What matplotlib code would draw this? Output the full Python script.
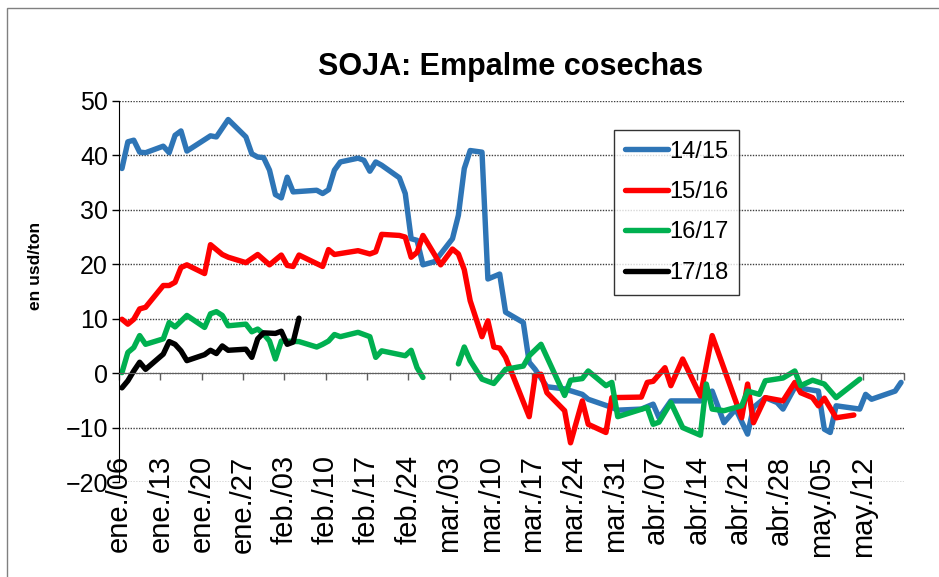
import matplotlib
import numpy as np

matplotlib.use("Agg")
import matplotlib.pyplot as plt  # noqa: E402
from matplotlib.patches import Rectangle  # noqa: E402

FONT = "Liberation Sans"
plt.rcParams["font.family"] = [FONT, "DejaVu Sans"]

TICK_LABELS = ["ene./06", "ene./13", "ene./20", "ene./27", "feb./03", "feb./10",
               "feb./17", "feb./24", "mar./03", "mar./10", "mar./17", "mar./24",
               "mar./31", "abr./07", "abr./14", "abr./21", "abr./28", "may./05",
               "may./12", ""]

# business-day offsets from ene./06, values in usd/ton
days_1415 = [0, 1, 2, 3, 4, 7, 8, 9, 10, 11, 15, 16, 18, 21, 22, 23, 24, 25, 26, 27,
             28, 29, 33, 34, 35, 36, 37, 40, 41, 42, 43, 44, 47, 48, 49, 50, 51, 53,
             56, 57, 58, 59, 61, 62, 64, 65, 68, 69, 70, 72, 75, 78, 79, 83, 84, 88,
             90, 91, 93, 98, 100, 102, 104, 106, 107, 109, 111, 112, 114, 118, 119,
             120, 121, 125, 126, 127, 131, 132]
vals_1415 = [37.6, 42.5, 42.8, 40.6, 40.5, 41.7, 40.5, 43.7, 44.5, 40.8, 43.6, 43.4,
             46.6, 43.4, 40.3, 39.7, 39.6, 37.3, 32.8, 32.2, 36.0, 33.3, 33.6, 33.0,
             33.7, 37.3, 38.8, 39.5, 39.1, 37.1, 38.8, 38.2, 35.9, 33.0, 24.7, 24.4,
             19.9, 20.5, 24.7, 29.0, 37.6, 40.9, 40.6, 17.3, 18.2, 11.2, 9.3, 2.0,
             0.7, -2.5, -2.9, -3.9, -4.8, -6.3, -6.8, -6.6, -5.7, -8.2, -5.1, -5.1,
             -3.3, -9.1, -6.6, -11.2, -6.3, -4.5, -5.4, -6.6, -2.6, -3.3, -10.3,
             -10.9, -6.0, -6.6, -3.9, -4.8, -3.3, -1.7]

days_1516 = [0, 1, 2, 3, 4, 7, 8, 9, 10, 11, 14, 15, 17, 18, 21, 23, 25, 27, 28, 29,
             30, 34, 35, 36, 40, 42, 43, 44, 47, 48, 49, 50, 51, 54, 56, 57, 58, 59,
             61, 62, 63, 64, 65, 69, 70, 71, 72, 75, 76, 78, 79, 82, 83, 88, 89, 90,
             92, 93, 95, 98, 100, 105, 106, 107, 109, 112, 114, 115, 117, 118, 119,
             121, 124]
vals_1516 = [9.9, 9.0, 9.9, 11.8, 12.1, 16.1, 16.1, 16.7, 19.4, 19.9, 18.3, 23.6,
             21.8, 21.3, 20.3, 21.8, 19.9, 21.7, 19.8, 19.6, 21.7, 19.6, 22.7, 21.8,
             22.5, 21.9, 22.3, 25.5, 25.3, 25.0, 21.3, 22.2, 25.3, 19.9, 22.8, 21.9,
             19.0, 13.3, 6.7, 9.6, 4.8, 4.6, 2.9, -8.0, -0.5, -0.2, -3.6, -6.9,
             -12.8, -5.1, -9.4, -10.9, -4.5, -4.4, -1.7, -1.5, 1.0, -2.3, 2.6, -4.2,
             6.9, -8.2, -2.0, -9.1, -4.5, -5.1, -1.7, -3.6, -4.5, -6.0, -4.6, -8.2,
             -7.7]

days_1617 = [0, 1, 2, 3, 4, 7, 8, 9, 11, 14, 15, 16, 17, 18, 21, 22, 23, 24, 25, 26,
             27, 30, 33, 34, 35, 36, 37, 40, 42, 43, 44, 48, 49, 50, 51, 54, 57, 58,
             59, 61, 63, 65, 68, 69, 71, 75, 76, 78, 79, 82, 83, 84, 89, 90, 91, 93,
             95, 98, 99, 100, 102, 105, 106, 108, 109, 112, 114, 115, 117, 119, 121,
             125]
vals_1617 = [0.1, 3.8, 4.7, 6.9, 5.3, 6.3, 9.3, 8.5, 10.6, 8.4, 10.9, 11.3, 10.6,
             8.7, 9.0, 7.6, 8.1, 7.2, 5.9, 2.6, 5.9, 5.8, 4.8, 5.3, 5.9, 7.1, 6.7,
             7.5, 6.7, 2.9, 4.1, 3.2, 4.2, 1.0, -0.8, np.nan, 1.7, 4.8, 2.3, -1.1,
             -1.9, 0.7, 1.3, 3.2, 5.3, -4.1, -1.3, -1.0, 0.4, -2.3, -1.7, -8.0, -6.3,
             -9.4, -9.0, -5.4, -10.0, -11.4, -2.0, -6.6, -6.9, -6.0, -3.3, -3.9,
             -1.4, -0.9, 0.4, -2.3, -1.3, -2.0, -4.5, -1.1]

days_1718 = [0, 1, 2, 3, 4, 7, 8, 9, 10, 11, 14, 15, 16, 17, 18, 21, 22, 23, 24, 26,
             27, 28, 29, 30]
vals_1718 = [-2.7, -1.4, 0.4, 2.0, 0.7, 3.5, 5.8, 5.3, 4.1, 2.3, 3.4, 4.2, 3.6, 5.0,
             4.2, 4.4, 2.9, 6.3, 7.4, 7.3, 7.7, 5.3, 5.7, 10.1]

SERIES = [("14/15", days_1415, vals_1415, "#2E75B6"),
          ("15/16", days_1516, vals_1516, "#FF0000"),
          ("16/17", days_1617, vals_1617, "#00B050"),
          ("17/18", days_1718, vals_1718, "#000000")]

W, H = 939, 577
fig = plt.figure(figsize=(W / 100, H / 100), dpi=100)
ax = fig.add_axes([119 / W, 1 - 482 / H, 785 / W, 381 / H])

for label, d, v, c in SERIES:
    ax.plot(d, v, color=c, lw=3.9, label=label, solid_joinstyle="round",
            solid_capstyle="round")

ax.set_xlim(-0.5, 132.5)
ax.set_ylim(-20, 50)
ax.set_yticks(np.arange(-20, 51, 10))
ax.yaxis.grid(True, linestyle=(0, (1, 1)), color="#404040", lw=1.0)
ax.set_axisbelow(True)

ticks = np.arange(0, 134, 7) - 0.5
ax.set_xticks(ticks)
ax.tick_params(axis="x", labelbottom=False, direction="out", length=5,
               color="#606060", width=1)
ax.tick_params(axis="y", direction="out", length=5, width=1, labelsize=18, pad=3)
ax.spines["bottom"].set_position(("data", 0))
ax.spines["bottom"].set_color("#606060")
ax.spines["left"].set_color("black")
for s in ("top", "right"):
    ax.spines[s].set_visible(False)

sec = ax.secondary_xaxis(0.07)
sec.set_xticks(ticks, TICK_LABELS, rotation=90, va="top", ha="center", fontsize=21)
sec.tick_params(length=0, pad=0)
sec.spines["bottom"].set_visible(False)

fig.text(35 / W, 1 - 266 / H, "en usd/ton", rotation=90, ha="center", va="center",
         fontsize=12.5, fontweight="bold")

fig.text(511 / W, 1 - 67 / H, "SOJA: Empalme cosechas", ha="center", va="center",
         fontsize=22, fontweight="bold")

leg = ax.legend(loc="upper left", bbox_to_anchor=((614 - 119) / 785, (482 - 130) / 381),
                borderaxespad=0, fontsize=17, frameon=True, fancybox=False,
                handlelength=1.85, handletextpad=0.05, labelspacing=0.78,
                borderpad=0.45)
leg.get_frame().set_edgecolor("black")
leg.get_frame().set_linewidth(1)

fig.add_artist(Rectangle((7 / W, -0.1), 1.2, 1.1 - 8 / H, transform=fig.transFigure,
                         fill=False, edgecolor="#808080", lw=1))

fig.savefig("out.png", dpi=100)
